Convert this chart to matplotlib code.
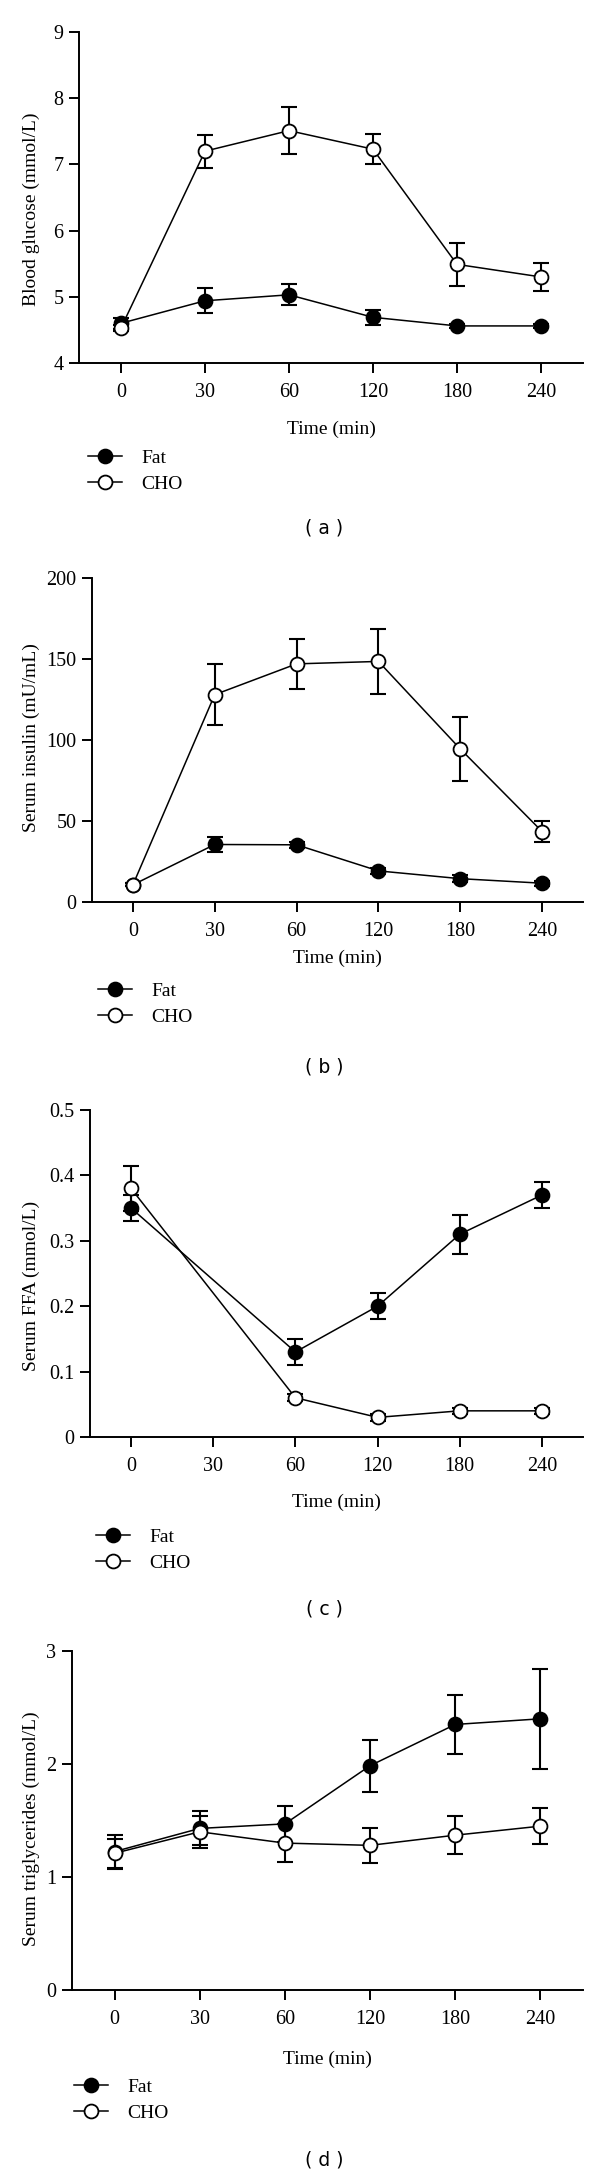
import matplotlib

matplotlib.use("Agg")
import matplotlib.pyplot as plt
from matplotlib.lines import Line2D


# x axis is categorical: sampling times shown at equal spacing
TIME_LABELS = ["0", "30", "60", "120", "180", "240"]

GLUCOSE_TIMES = ["0", "30", "60", "120", "180", "240"]
GLUCOSE_FAT = [4.60, 4.94, 5.03, 4.69, 4.56, 4.56]
GLUCOSE_FAT_SEM = [0.08, 0.19, 0.16, 0.11, 0.03, 0.03]
GLUCOSE_CHO = [4.53, 7.20, 7.51, 7.23, 5.49, 5.30]
GLUCOSE_CHO_SEM = [0.05, 0.25, 0.35, 0.23, 0.33, 0.21]

INSULIN_TIMES = ["0", "30", "60", "120", "180", "240"]
INSULIN_FAT = [10.6, 35.5, 35.3, 19.2, 14.4, 11.6]
INSULIN_FAT_SEM = [1.0, 4.5, 2.0, 2.0, 2.0, 1.5]
INSULIN_CHO = [10.6, 128.0, 147.0, 148.5, 94.5, 43.5]
INSULIN_CHO_SEM = [1.0, 19.0, 15.5, 20.0, 20.0, 6.7]

FFA_TIMES = ["0", "60", "120", "180", "240"]
FFA_FAT = [0.35, 0.13, 0.20, 0.31, 0.37]
FFA_FAT_SEM = [0.02, 0.02, 0.02, 0.03, 0.02]
FFA_CHO = [0.38, 0.06, 0.03, 0.04, 0.04]
FFA_CHO_SEM = [0.035, 0.005, 0.005, 0.005, 0.005]

TG_TIMES = ["0", "30", "60", "120", "180", "240"]
TG_FAT = [1.225, 1.43, 1.47, 1.985, 2.35, 2.40]
TG_FAT_SEM = [0.15, 0.15, 0.16, 0.23, 0.26, 0.44]
TG_CHO = [1.21, 1.40, 1.30, 1.28, 1.37, 1.45]
TG_CHO_SEM = [0.13, 0.14, 0.17, 0.155, 0.17, 0.16]

SERIF = "Liberation Serif"
FS = 14
TICK_FS = 14.5

FIG_W, FIG_H = 600, 2174


def _px_axes(fig, left, top, right, bottom):
    return fig.add_axes([left / FIG_W, 1 - bottom / FIG_H, (right - left) / FIG_W, (bottom - top) / FIG_H])


def _plot_panel(fig, box, times, fat, fat_sem, cho, cho_sem, yticks, ylabel, ylabel_frac,
                xlabel_px, legend_px, tag, tag_px):
    left, top, right, bottom = box
    ax = _px_axes(fig, left, top, right, bottom)
    x = [TIME_LABELS.index(t) for t in times]

    for vals, sem in ((fat, fat_sem), (cho, cho_sem)):
        ax.errorbar(x, vals, yerr=sem, fmt="none", ecolor="black", elinewidth=1.5,
                    capsize=5.5, capthick=1.5, zorder=2)
    ax.plot(x, fat, color="black", lw=1.1, marker="o", ms=10, mfc="black", mec="black",
            mew=1.3, zorder=3, clip_on=False, label="Fat")
    ax.plot(x, cho, color="black", lw=1.1, marker="o", ms=10, mfc="white", mec="black",
            mew=1.3, zorder=4, clip_on=False, label="CHO")

    ax.set_xlim(-0.5, 5.5)
    ax.set_ylim(yticks[0], yticks[-1])
    ax.set_xticks(range(len(TIME_LABELS)))
    ax.set_xticklabels(TIME_LABELS)
    ax.set_yticks(yticks)
    ax.set_yticklabels([f"{v:g}" for v in yticks])
    for side in ("top", "right"):
        ax.spines[side].set_visible(False)
    for side in ("left", "bottom"):
        ax.spines[side].set_linewidth(1.4)
    ax.tick_params(axis="both", direction="out", length=7.2, width=1.4, labelsize=TICK_FS)
    ax.tick_params(axis="x", pad=7.5)
    ax.tick_params(axis="y", pad=4.0)
    for lab in ax.get_xticklabels() + ax.get_yticklabels():
        lab.set_family(SERIF)

    height = bottom - top
    width = right - left
    ax.set_ylabel(ylabel, fontsize=FS, family=SERIF, va="center")
    ax.yaxis.set_label_coords((31 - left) / width, ylabel_frac)
    ax.set_xlabel("Time (min)", fontsize=FS, family=SERIF, va="center")
    ax.xaxis.set_label_coords(0.5, -(xlabel_px - bottom) / height)

    handles = [
        Line2D([], [], color="black", lw=1.1, marker="o", ms=10, mfc="black", mec="black", mew=1.3),
        Line2D([], [], color="black", lw=1.1, marker="o", ms=10, mfc="white", mec="black", mew=1.3),
    ]
    lx, ly = legend_px
    ax.legend(handles, ["Fat", "CHO"], loc="center left",
              bbox_to_anchor=(lx / FIG_W, 1 - ly / FIG_H), bbox_transform=fig.transFigure,
              frameon=False, borderpad=0, borderaxespad=0, handlelength=1.75,
              handletextpad=1.0, labelspacing=0.45, numpoints=1,
              prop={"family": SERIF, "size": FS})

    fig.text(324 / FIG_W, 1 - tag_px / FIG_H, tag, ha="center", va="center",
             fontsize=13.5, family="DejaVu Sans")
    return ax


def main() -> None:
    fig = plt.figure(figsize=(FIG_W / 100, FIG_H / 100), dpi=100)

    _plot_panel(fig, (79, 32, 583, 363), GLUCOSE_TIMES, GLUCOSE_FAT, GLUCOSE_FAT_SEM,
                GLUCOSE_CHO, GLUCOSE_CHO_SEM, [4, 5, 6, 7, 8, 9],
                "Blood glucose (mmol/L)", 0.465, 429, (88, 471), "( a )", 528)
    _plot_panel(fig, (92, 578, 583, 902), INSULIN_TIMES, INSULIN_FAT, INSULIN_FAT_SEM,
                INSULIN_CHO, INSULIN_CHO_SEM, [0, 50, 100, 150, 200],
                "Serum insulin (mU/mL)", 0.508, 958, (98, 1004), "( b )", 1067)
    _plot_panel(fig, (90, 1110, 583, 1437), FFA_TIMES, FFA_FAT, FFA_FAT_SEM,
                FFA_CHO, FFA_CHO_SEM, [0, 0.1, 0.2, 0.3, 0.4, 0.5],
                "Serum FFA (mmol/L)", 0.463, 1502, (96, 1550), "( c )", 1609)
    _plot_panel(fig, (72, 1651, 583, 1990), TG_TIMES, TG_FAT, TG_FAT_SEM,
                TG_CHO, TG_CHO_SEM, [0, 1, 2, 3],
                "Serum triglycerides (mmol/L)", 0.477, 2059, (74, 2100), "( d )", 2160)

    fig.savefig("out.png", dpi=100)
    plt.close(fig)


if __name__ == "__main__":
    main()
